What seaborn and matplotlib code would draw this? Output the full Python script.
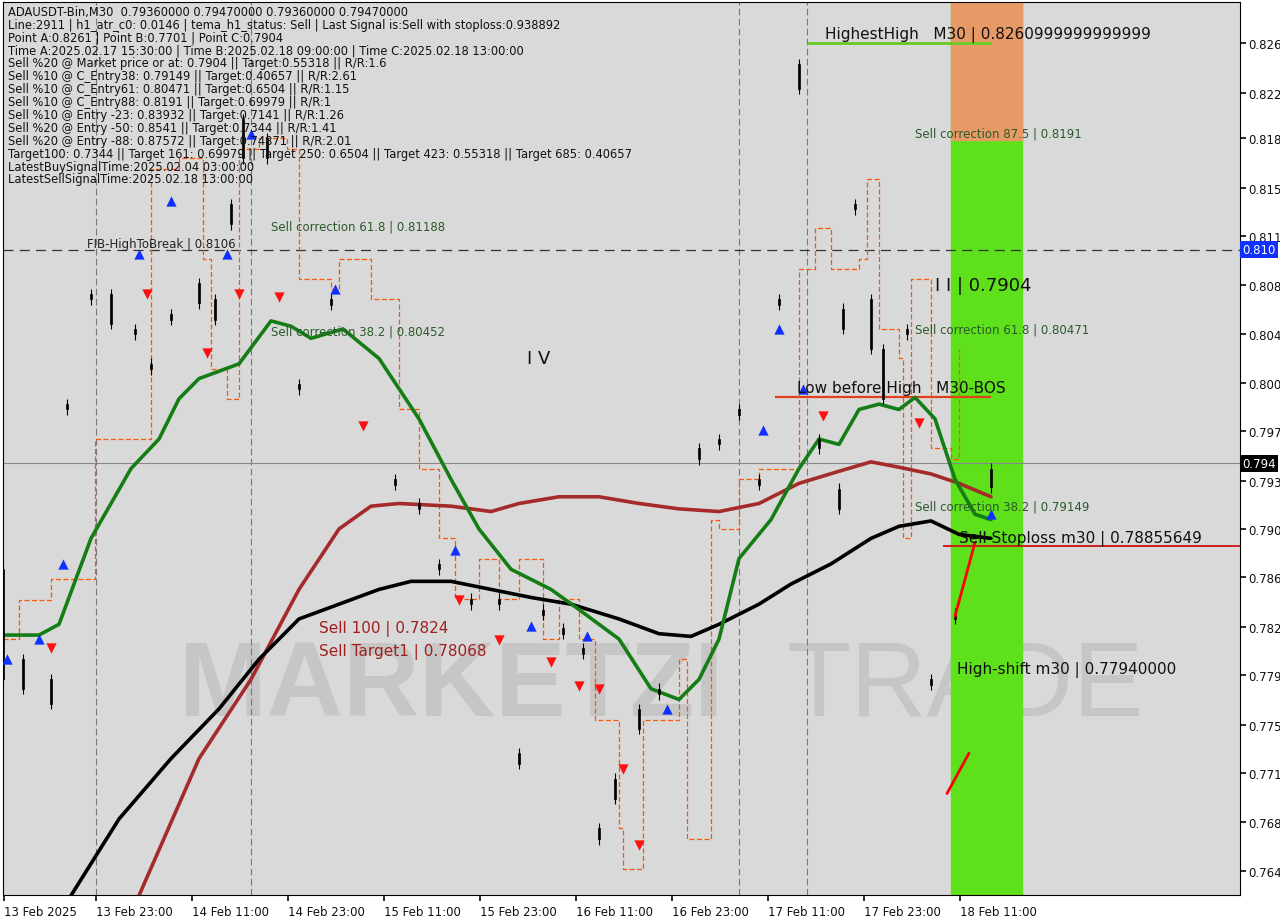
import numpy as np
import pandas as pd
import matplotlib
matplotlib.use("Agg")
import matplotlib.pyplot as plt
import seaborn as sns

# ---------------- data ----------------
green_x = [0,9,14,22,32,39,44,49,59,67,72,77,85,94,104,112,119,127,137,144,154,162,169,174,179,184,192,199,204,209,214,219,224,228,233,238,243,247]
green_y = [.7819,.7819,.7827,.7891,.7943,.7965,.7995,.8010,.8021,.8053,.8049,.8040,.8047,.8025,.7980,.7935,.7898,.7868,.7853,.7838,.7816,.7779,.7771,.7786,.7816,.7876,.7905,.7943,.7965,.7961,.7987,.7991,.7987,.7996,.7980,.7935,.7909,.7905]
brown_x = [34,49,62,74,84,92,99,112,122,129,139,149,159,169,179,189,199,209,217,224,232,239,247]
brown_y = [.7625,.7727,.7786,.7853,.7898,.7915,.7917,.7915,.7911,.7917,.7922,.7922,.7917,.7913,.7911,.7917,.7932,.7941,.7948,.7944,.7939,.7932,.7922]
black_x = [17,29,42,54,64,74,84,94,102,112,122,132,142,154,164,172,179,189,197,207,217,224,232,239,247]
black_y = [.7625,.7682,.7727,.7764,.7801,.7831,.7842,.7853,.7859,.7859,.7853,.7847,.7842,.7831,.7820,.7818,.7827,.7842,.7857,.7872,.7891,.7900,.7904,.7894,.7891]
orange_x = [0,4,12,23,23,34,37,44,50,52,56,59,64,71,74,82,84,92,99,104,109,113,119,124,129,135,139,144,148,154,155,159,160,169,171,177,179,184,189,199,203,207,214,216,219,224,225,227,232,237,239]
orange_y = [.7816,.7845,.7861,.7861,.7965,.7965,.8166,.8174,.8099,.8017,.7995,.8181,.8189,.8181,.8084,.8077,.8099,.8069,.7987,.7943,.7891,.7846,.7876,.7846,.7876,.7816,.7846,.7816,.7756,.7675,.7645,.7645,.7756,.7801,.7667,.7905,.7898,.7935,.7943,.8092,.8122,.8092,.8099,.8159,.8047,.8025,.7891,.8084,.7958,.7950,.8032]
candle_x = [0,5,12,16,22,27,33,37,42,49,53,57,60,66,74,82,98,104,109,117,124,129,135,140,145,149,153,159,164,174,179,184,189,194,199,204,209,210,213,217,220,226,232,238,247]
candle_o = [.7868,.7801,.7786,.7991,.8073,.8073,.8047,.8021,.8058,.8081,.8069,.8140,.8203,.8189,.8006,.8069,.7935,.7917,.7872,.7846,.7846,.7731,.7838,.7824,.7809,.7675,.7712,.7764,.7779,.7958,.7965,.7987,.7935,.8069,.8244,.7965,.7928,.8062,.8140,.8069,.8032,.8047,.7786,.7835,.7943]
candle_c = [.7786,.7779,.7768,.7987,.8069,.8051,.8043,.8017,.8054,.8066,.8054,.8125,.8174,.8174,.8002,.8065,.7931,.7913,.7868,.7842,.7842,.7723,.7834,.7820,.7805,.7667,.7697,.7749,.7775,.7950,.7961,.7983,.7931,.8065,.8226,.7958,.7913,.8047,.8136,.8032,.7995,.8043,.7782,.7831,.7929]
up_x = [1,9,15,34,42,56,62,83,113,132,146,166,194,190,200,247]
up_y = [.7801,.7816,.7872,.8103,.8142,.8103,.8192,.8077,.7882,.7826,.7818,.7764,.8047,.7972,.8002,.7909]
dn_x = [12,36,51,59,69,90,114,124,137,144,149,155,159,205,229]
dn_y = [.7809,.8073,.8029,.8073,.8071,.7975,.7845,.7815,.7799,.7781,.7779,.7719,.7663,.7982,.7977]
date_labels = ["13 Feb 2025","13 Feb 23:00","14 Feb 11:00","14 Feb 23:00","15 Feb 11:00","15 Feb 23:00",
               "16 Feb 11:00","16 Feb 23:00","17 Feb 11:00","17 Feb 23:00","18 Feb 11:00"]
ytick_vals = [.8260,.8223,.8189,.8152,.8116,.8080,.8043,.8007,.7971,.7934,.7898,.7862,.7825,.7789,.7752,.7716,.7680,.7643]
ytick_labels = ["0.826","0.822","0.818","0.815","0.811","0.808","0.804","0.800","0.797","0.793","0.790","0.786","0.782","0.779","0.775","0.771","0.768","0.764"]
info_lines = [
 "ADAUSDT-Bin,M30  0.79360000 0.79470000 0.79360000 0.79470000",
 "Line:2911 | h1_atr_c0: 0.0146 | tema_h1_status: Sell | Last Signal is:Sell with stoploss:0.938892",
 "Point A:0.8261 | Point B:0.7701 | Point C:0.7904",
 "Time A:2025.02.17 15:30:00 | Time B:2025.02.18 09:00:00 | Time C:2025.02.18 13:00:00",
 "Sell %20 @ Market price or at: 0.7904 || Target:0.55318 || R/R:1.6",
 "Sell %10 @ C_Entry38: 0.79149 || Target:0.40657 || R/R:2.61",
 "Sell %10 @ C_Entry61: 0.80471 || Target:0.6504 || R/R:1.15",
 "Sell %10 @ C_Entry88: 0.8191 || Target:0.69979 || R/R:1",
 "Sell %10 @ Entry -23: 0.83932 || Target:0.7141 || R/R:1.26",
 "Sell %20 @ Entry -50: 0.8541 || Target:0.7344 || R/R:1.41",
 "Sell %20 @ Entry -88: 0.87572 || Target:0.74871 || R/R:2.01",
 "Target100: 0.7344 || Target 161: 0.69979 || Target 250: 0.6504 || Target 423: 0.55318 || Target 685: 0.40657",
 "LatestBuySignalTime:2025.02.04 03:00:00",
 "LatestSellSignalTime:2025.02.18 13:00:00",
]

# ---------------- figure ----------------
sns.set_theme(style="white")
plt.rcParams['font.family'] = ['DejaVu Sans']
fig = plt.figure(figsize=(12.8, 9.2), dpi=100, facecolor="white")
ax = fig.add_axes([3/1280, 24/920, 1237/1280, 893/920])
ax.set_facecolor("#d9d9d9")
ax.set_xlim(0, 309.25)
ax.set_ylim(0.76254, 0.82905)

# watermark
ax.text(44, 0.7780, "MARKETZI", fontsize=76, color="#c6c6c6", family="Liberation Sans",
        ha="left", va="center", fontweight="bold", zorder=0, clip_on=True)
ax.text(196, 0.7780, "TRADE", fontsize=76, color="#c6c6c6", family="Liberation Sans",
        ha="left", va="center", zorder=0, clip_on=True)

# green/orange zone
ax.axvspan(237, 254.75, color="#5ee01a", zorder=1)
ax.axvspan(237, 254.75, ymin=(0.8188-0.76254)/(0.82905-0.76254), ymax=1, color="#e89a66", zorder=1)

# vertical session lines
for b in [23.25, 62, 184, 201]:
    ax.axvline(b, color="#777777", ls=(0, (6, 3)), lw=0.8, zorder=1)

# horizontal lines
ax.axhline(0.8106, color="#333333", ls=(0, (8, 5)), lw=0.9, zorder=2)
ax.axhline(0.7947, color="#888888", lw=0.8, zorder=2)
ax.hlines(0.78856, 235, 309.25, color="#d01010", lw=1.3, zorder=3)
ax.hlines(0.8260, 201, 247, color="#66cc22", lw=2, zorder=3)
ax.hlines(0.7996, 193, 247, color="#e0401a", lw=1.6, zorder=3)

# orange dashed stepped line
ax.plot(orange_x, orange_y, drawstyle="steps-post", color="#ff5500", lw=0.9, ls=(0, (4, 2)), zorder=3)

# moving averages
sns.lineplot(x=brown_x, y=brown_y, ax=ax, color="#a52a2a", lw=2.6, zorder=4)
sns.lineplot(x=black_x, y=black_y, ax=ax, color="black", lw=2.6, zorder=4)
sns.lineplot(x=green_x, y=green_y, ax=ax, color="#157d15", lw=2.6, zorder=5)

# candles
for x, o, c in zip(candle_x, candle_o, candle_c):
    lo, hi = min(o, c), max(o, c)
    ax.vlines(x, lo - 0.0004, hi + 0.0004, color="black", lw=0.8, zorder=6)
    ax.bar(x, max(hi - lo, 0.00015), bottom=lo, width=0.7, color="black",
           edgecolor="black", linewidth=0.5, zorder=6)

# arrows
ax.scatter(up_x, up_y, marker="^", s=55, color="#1030ff", linewidths=0, zorder=7)
ax.scatter(dn_x, dn_y, marker="v", s=55, color="#ff1010", linewidths=0, zorder=7)

# red sell lines at end
ax.plot([236, 241.5], [0.7701, 0.7731], color="red", lw=2, zorder=7)
ax.plot([238, 243], [0.7833, 0.7888], color="red", lw=2, zorder=7)

# labels
ax.text(205.5, 0.8261, "HighestHigh   M30 | 0.8260999999999999", fontsize=11, va="bottom", color="#111111", zorder=8)
ax.text(228, 0.8188, "Sell correction 87.5 | 0.8191", fontsize=8.5, color="#2a5a2a", va="bottom", zorder=8)
ax.text(21, 0.8106, "FIB-HighToBreak | 0.8106", fontsize=8.5, color="#222222", va="bottom", zorder=8)
ax.text(67, 0.81188, "Sell correction 61.8 | 0.81188", fontsize=8.5, color="#2a5a2a", va="bottom", zorder=8)
ax.text(233, 0.8080, "I I | 0.7904", fontsize=13, color="#111111", va="center", zorder=8)
ax.text(67, 0.80452, "Sell correction 38.2 | 0.80452", fontsize=8.5, color="#2a5a2a", va="center", zorder=8)
ax.text(228, 0.80471, "Sell correction 61.8 | 0.80471", fontsize=8.5, color="#2a5a2a", va="center", zorder=8)
ax.text(131, 0.8025, "I V", fontsize=13, color="#111111", va="center", zorder=8)
ax.text(198.5, 0.7998, "Low before High   M30-BOS", fontsize=11, color="#111111", va="bottom", zorder=8)
ax.text(228, 0.79149, "Sell correction 38.2 | 0.79149", fontsize=8.5, color="#2a5a2a", va="center", zorder=8)
ax.text(239, 0.78856, "Sell Stoploss m30 | 0.78855649", fontsize=11, color="#111111", va="bottom", zorder=8)
ax.text(79, 0.7824, "Sell 100 | 0.7824", fontsize=11, color="#a02020", va="center", zorder=8)
ax.text(79, 0.78068, "Sell Target1 | 0.78068", fontsize=11, color="#a02020", va="center", zorder=8)
ax.text(238.5, 0.7794, "High-shift m30 | 0.77940000", fontsize=11, color="#111111", va="center", zorder=8)

for i, line in enumerate(info_lines):
    ax.text(0.004, 0.997 - i * 0.01445, line, transform=ax.transAxes, fontsize=8.3, va="top", color="#111111", zorder=9)

# axes
ax.yaxis.tick_right()
ax.set_yticks(ytick_vals)
ax.set_yticklabels(ytick_labels, fontsize=8.5)
ax.tick_params(axis="y", direction="out", length=4, pad=2, right=True, colors="#111111")
xt = [23.25 + 24 * (k - 1) if k > 0 else 0.3 for k in range(11)]
ax.set_xticks(xt)
ax.set_xticklabels(date_labels, fontsize=8.5, ha="left")
ax.tick_params(axis="x", direction="out", length=4, pad=3, bottom=True, colors="#111111")
for s in ax.spines.values():
    s.set_color("black"); s.set_linewidth(0.8)

# price labels on right
ax.text(1.002, 0.8106, "0.810", transform=ax.get_yaxis_transform(), fontsize=8.5, color="white",
        va="center", bbox=dict(facecolor="#1030ff", edgecolor="none", pad=1.5), clip_on=False)
ax.text(1.002, 0.7947, "0.794", transform=ax.get_yaxis_transform(), fontsize=8.5, color="white",
        va="center", bbox=dict(facecolor="black", edgecolor="none", pad=1.5), clip_on=False)
ax.set_xlabel(""); ax.set_ylabel("")

fig.savefig("out.png", dpi=100, facecolor="white")
